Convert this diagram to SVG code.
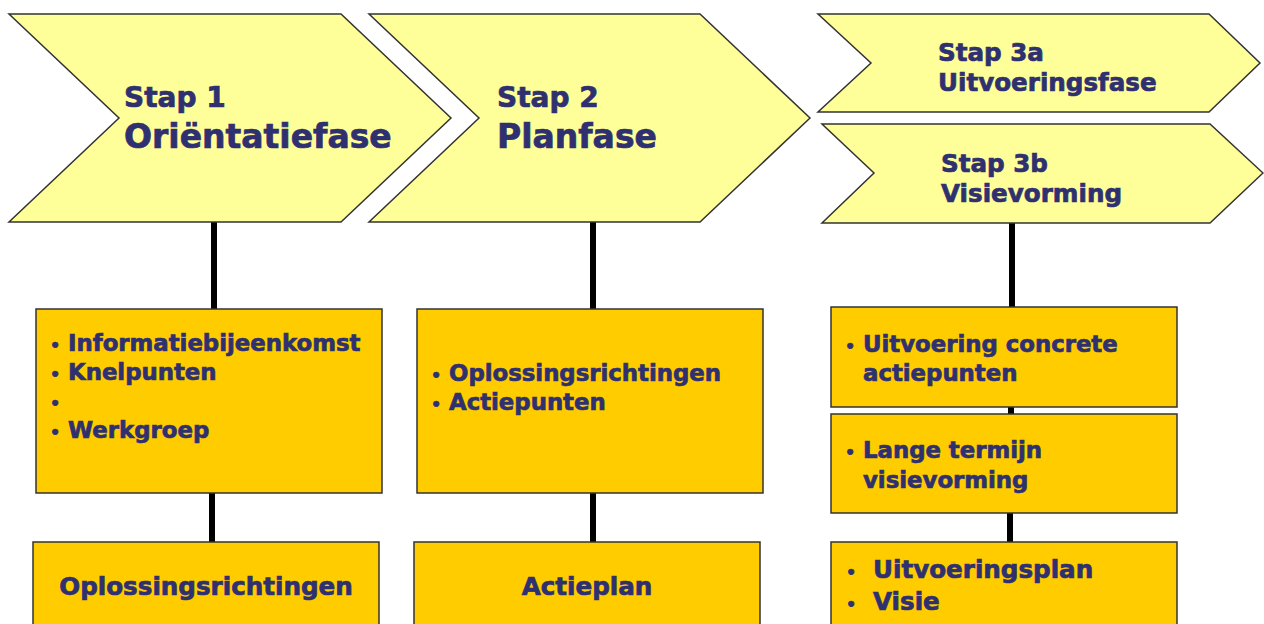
<svg xmlns="http://www.w3.org/2000/svg" width="1264" height="624" viewBox="0 0 1264 624">
<style>
.chev{fill:#FFFF99;stroke:#333333;stroke-width:1.5}
.box{fill:#FFCC00;stroke:#333333;stroke-width:1.5}
.conn{stroke:#000000;stroke-width:6;fill:none}
text{font-family:"DejaVu Sans","Verdana",sans-serif;font-weight:bold;fill:#2E3070;stroke:#2E3070;stroke-width:0.7}
.h1{font-size:28px}
.h2{font-size:33px}
.h3{font-size:24.6px}
.t{font-size:22.8px}
.t2{font-size:24.6px}
.b{font-size:16px}
</style>
<rect width="1264" height="624" fill="#FFFFFF"/>
<g id="connectors">
<line class="conn" x1="214" y1="222" x2="214" y2="309"/>
<line class="conn" x1="212" y1="493" x2="212" y2="542"/>
<line class="conn" x1="593" y1="222" x2="593" y2="309"/>
<line class="conn" x1="593" y1="493" x2="593" y2="542"/>
<line class="conn" x1="1012" y1="223" x2="1012" y2="307"/>
<line class="conn" x1="1011" y1="407" x2="1011" y2="414"/>
<line class="conn" x1="1010" y1="513" x2="1010" y2="542"/>
</g>
<g id="stap1">
<polygon class="chev" points="9,14 341,14 451,118 341,222 9,222 119,118"/>
<text class="h1" x="124" y="107">Stap 1</text>
<text class="h2" x="124" y="148">Oriëntatiefase</text>
</g>
<g id="stap2">
<polygon class="chev" points="369,14 700,14 810,118 700,222 369,222 479,118"/>
<text class="h1" x="497" y="107">Stap 2</text>
<text class="h2" x="497" y="148">Planfase</text>
</g>
<g id="stap3a">
<polygon class="chev" points="818,14 1209,14 1260,63 1209,112 818,112 871,63"/>
<text class="h3" x="938" y="61">Stap 3a</text>
<text class="h3" x="938" y="91">Uitvoeringsfase</text>
</g>
<g id="stap3b">
<polygon class="chev" points="822,124 1210,124 1263,173 1210,223 822,223 874,173"/>
<text class="h3" x="941" y="172">Stap 3b</text>
<text class="h3" x="941" y="202">Visievorming</text>
</g>
<g id="box1">
<rect class="box" x="36" y="309" width="346" height="184"/>
<text class="b" x="50" y="351">•</text><text class="t" x="68" y="351">Informatiebijeenkomst</text>
<text class="b" x="50" y="380">•</text><text class="t" x="68" y="380">Knelpunten</text>
<text class="b" x="50" y="409">•</text>
<text class="b" x="50" y="438">•</text><text class="t" x="68" y="438">Werkgroep</text>
</g>
<g id="box1b">
<rect class="box" x="33" y="542" width="346" height="90"/>
<text class="t2" x="206" y="595" text-anchor="middle">Oplossingsrichtingen</text>
</g>
<g id="box2">
<rect class="box" x="417" y="309" width="346" height="184"/>
<text class="b" x="431" y="381">•</text><text class="t" x="449" y="381">Oplossingsrichtingen</text>
<text class="b" x="431" y="410">•</text><text class="t" x="449" y="410">Actiepunten</text>
</g>
<g id="box2b">
<rect class="box" x="414" y="542" width="346" height="90"/>
<text class="t2" x="587" y="595" text-anchor="middle">Actieplan</text>
</g>
<g id="box3a">
<rect class="box" x="831" y="307" width="346" height="100"/>
<text class="b" x="845" y="352">•</text><text class="t" x="863" y="352">Uitvoering concrete</text>
<text class="t" x="863" y="381">actiepunten</text>
</g>
<g id="box3b">
<rect class="box" x="831" y="414" width="346" height="99"/>
<text class="b" x="845" y="458">•</text><text class="t" x="863" y="458">Lange termijn</text>
<text class="t" x="863" y="488">visievorming</text>
</g>
<g id="box3c">
<rect class="box" x="831" y="542" width="346" height="90"/>
<text class="b" x="846" y="578">•</text><text class="t2" x="873" y="578">Uitvoeringsplan</text>
<text class="b" x="846" y="610">•</text><text class="t2" x="873" y="610">Visie</text>
</g>
</svg>
